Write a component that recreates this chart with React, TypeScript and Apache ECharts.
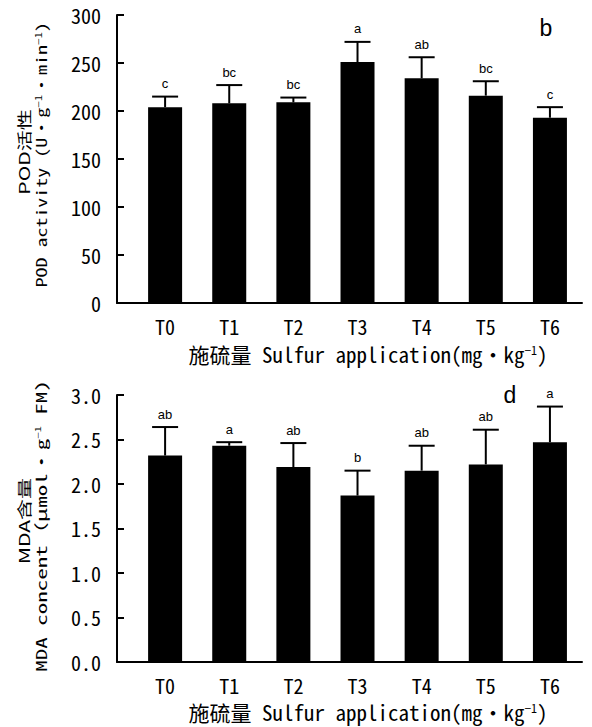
import React, { useEffect, useRef } from "react";
import * as echarts from "echarts";

const categories = ["T0", "T1", "T2", "T3", "T4", "T5", "T6"];
const podValues = [204, 208, 209, 251, 234, 216, 193];
const podErrors = [11, 19, 5, 21, 22, 15, 11];
const podLetters = ["c", "bc", "bc", "a", "ab", "bc", "c"];
const mdaValues = [2.32, 2.43, 2.19, 1.87, 2.15, 2.22, 2.47];
const mdaErrors = [0.32, 0.04, 0.27, 0.28, 0.28, 0.39, 0.4];
const mdaLetters = ["ab", "a", "ab", "b", "ab", "ab", "a"];
const podTicks = { min: 0, max: 300, interval: 50 };
const mdaTicks = { min: 0, max: 3, interval: 0.5 };

const MONO = "'Noto Sans Mono CJK SC', 'DejaVu Sans Mono', monospace";
const SANS = "'Liberation Sans', Arial, sans-serif";
const CJK = "'Noto Sans CJK SC', sans-serif";

function makeErrRender(letters: string[]) {
  return function errRender(params: any, api: any) {
    const x = api.value(0);
    const v = api.value(1);
    const e = api.value(2);
    const letter = letters[params.dataIndex];
    const p0 = api.coord([x, v]);
    const p1 = api.coord([x, v + e]);
    const lineStyle = { stroke: "#000", lineWidth: 2 };
    return {
      type: "group",
      children: [
        { type: "line", shape: { x1: p0[0], y1: p0[1], x2: p1[0], y2: p1[1] }, style: lineStyle },
        { type: "line", shape: { x1: p1[0] - 13, y1: p1[1], x2: p1[0] + 13, y2: p1[1] }, style: lineStyle },
        {
          type: "text",
          x: p1[0],
          y: p1[1] - 13,
          style: {
            text: letter,
            fill: "#000",
            font: `13px ${SANS}`,
            align: "center",
            verticalAlign: "middle",
          },
        },
      ],
    };
  };
}

export default function App() {
  const ref = useRef<HTMLDivElement>(null);
  useEffect(() => {
    if (!ref.current) return;
    const chart = echarts.init(ref.current, null, { renderer: "svg" });
    const xAxisBase = (gridIndex: number) => ({
      type: "value" as const,
      gridIndex,
      min: -0.75,
      max: 6.5,
      splitLine: { show: false },
      axisTick: { show: false },
      axisLine: { show: true, onZero: false, lineStyle: { color: "#000", width: 2 } },
      axisLabel: {
        customValues: categories.map((_, i) => i),
        formatter: (v: number) => categories[Math.round(v)] ?? "",
        color: "#000",
        fontSize: 20,
        fontFamily: MONO,
        margin: 13,
      },
    });
    const yAxisBase = (gridIndex: number, t: any, fmt: (v: number) => string) => ({
      type: "value" as const,
      gridIndex,
      min: t.min,
      max: t.max,
      interval: t.interval,
      splitLine: { show: false },
      axisLine: { show: true, onZero: false, lineStyle: { color: "#000", width: 2 } },
      axisTick: { show: true, inside: true, length: 7, lineStyle: { color: "#000", width: 2 } },
      axisLabel: { color: "#000", fontSize: 20, fontFamily: MONO, margin: 16, formatter: fmt },
    });
    const supRich = {
      sup: { fontSize: 12, fontFamily: MONO, verticalAlign: "top", lineHeight: 12 },
    };
    const xTitle = (y: number) => ({
      type: "text",
      x: 368,
      y,
      style: {
        text: "施硫量 Sulfur application(mg·kg{sup|−1})",
        font: `21px ${MONO}`,
        lineHeight: 22,
        fill: "#000",
        align: "center",
        verticalAlign: "middle",
        rich: supRich,
      },
    });
    const vText = (x: number, y: number, text: string, font: string, sy: number) => ({
      type: "text",
      x,
      y,
      rotation: Math.PI / 2,
      scaleY: sy,
      style: {
        text,
        font,
        fill: "#000",
        align: "center",
        verticalAlign: "middle",
        rich: supRich,
      },
    });
    chart.setOption({
      animation: false,
      backgroundColor: "#fff",
      grid: [
        { left: 117, top: 15, width: 465, height: 288 },
        { left: 117, top: 395, width: 465, height: 267 },
      ],
      xAxis: [xAxisBase(0), xAxisBase(1)],
      yAxis: [
        yAxisBase(0, podTicks, (v: number) => String(v)),
        yAxisBase(1, mdaTicks, (v: number) => v.toFixed(1)),
      ],
      series: [
        {
          type: "bar",
          xAxisIndex: 0,
          yAxisIndex: 0,
          barWidth: 34,
          itemStyle: { color: "#000" },
          data: podValues.map((v, i) => [i, v]),
        },
        {
          type: "custom",
          xAxisIndex: 0,
          yAxisIndex: 0,
          clip: false,
          z: 5,
          encode: { x: 0, y: 1 },
          renderItem: makeErrRender(podLetters),
          data: podValues.map((v, i) => [i, v, podErrors[i]]),
        },
        {
          type: "bar",
          xAxisIndex: 1,
          yAxisIndex: 1,
          barWidth: 34,
          itemStyle: { color: "#000" },
          data: mdaValues.map((v, i) => [i, v]),
        },
        {
          type: "custom",
          xAxisIndex: 1,
          yAxisIndex: 1,
          clip: false,
          z: 5,
          encode: { x: 0, y: 1 },
          renderItem: makeErrRender(mdaLetters),
          data: mdaValues.map((v, i) => [i, v, mdaErrors[i]]),
        },
      ],
      graphic: [
        xTitle(354),
        xTitle(712),
        vText(24, 152, "POD活性", `21px ${CJK}`, 0.7),
        vText(41, 155, "POD activity (U·g{sup|−1}·min{sup|−1})", `20px ${MONO}`, 0.72),
        vText(24, 521, "MDA含量", `21px ${CJK}`, 0.7),
        vText(41, 526, "MDA concent（μmol·g{sup|−1} FM)", `23px ${MONO}`, 0.63),
        {
          type: "text",
          x: 546,
          y: 28,
          style: { text: "b", font: `23px ${SANS}`, fill: "#000", align: "center", verticalAlign: "middle" },
        },
        {
          type: "text",
          x: 510,
          y: 395,
          style: { text: "d", font: `23px ${SANS}`, fill: "#000", align: "center", verticalAlign: "middle" },
        },
      ],
    });
    return () => chart.dispose();
  }, []);
  return (
    <div
      ref={ref}
      style={{ position: "fixed", left: 0, top: 0, width: 592, height: 727, background: "#fff" }}
    />
  );
}
